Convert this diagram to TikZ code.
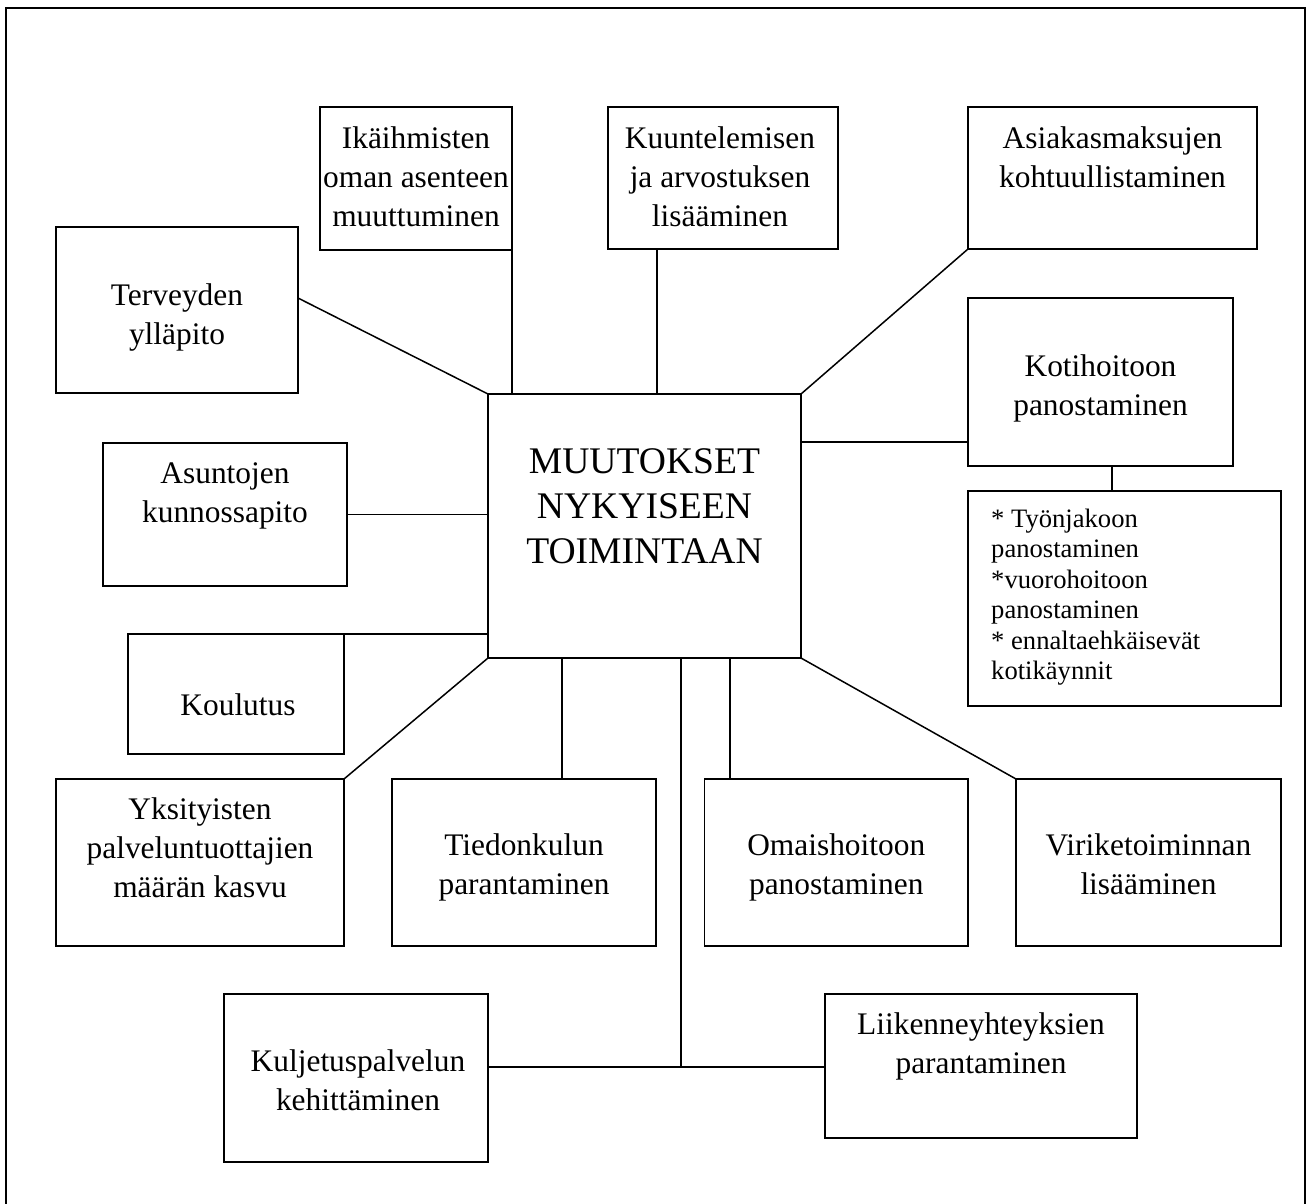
\documentclass[tikz,border=0pt]{standalone}
\usepackage{fontspec}
\setmainfont{Liberation Serif}
\begin{document}
\begin{tikzpicture}[x=1pt,y=-1pt]
\tikzset{
  box/.style={draw, line width=1.5pt, inner sep=0pt, outer sep=0pt},
  lab/.style={inner sep=0pt, align=center, anchor=north, font=\fontsize{31.4}{39}\selectfont},
  biglab/.style={inner sep=0pt, align=center, anchor=north, font=\fontsize{37.6}{45}\selectfont},
  notelab/.style={inner sep=0pt, align=left, anchor=north west, font=\fontsize{26.6}{30.5}\selectfont},
  conn/.style={line width=1.5pt},
}
\useasboundingbox (0,0) rectangle (1311,1203);
% outer frame
\draw[line width=1.5pt] (6,1215) -- (6,8) -- (1305,8) -- (1305,1215);

% boxes
\node[box, minimum width=313pt, minimum height=264pt] (center) at (644.5,526) {};
\node[box, minimum width=192pt, minimum height=143pt] (ika) at (416,178.5) {};
\node[box, minimum width=230pt, minimum height=142pt] (kuu) at (723,178) {};
\node[box, minimum width=289pt, minimum height=142pt] (asi) at (1112.5,178) {};
\node[box, minimum width=242pt, minimum height=166pt] (terv) at (177,310) {};
\node[box, minimum width=265pt, minimum height=168pt] (koti) at (1100.5,382) {};
\node[box, minimum width=313pt, minimum height=215pt] (notes) at (1124.5,598.5) {};
\node[box, minimum width=244pt, minimum height=143pt] (asu) at (225,514.5) {};
\node[box, minimum width=216pt, minimum height=120pt] (kou) at (236,694) {};
\node[box, minimum width=288pt, minimum height=167pt] (yks) at (200,862.5) {};
\node[box, minimum width=264pt, minimum height=167pt] (tie) at (524,862.5) {};
\node[box, minimum width=263.5pt, minimum height=167pt] (oma) at (836.25,862.5) {};
\node[box, minimum width=265pt, minimum height=167pt] (vir) at (1148.5,862.5) {};
\node[box, minimum width=264pt, minimum height=168pt] (kul) at (356,1078) {};
\node[box, minimum width=312pt, minimum height=144pt] (lii) at (981,1066) {};

% texts
\node[biglab] (center-t) at (644.5,441.5) {\strut MUUTOKSET\\NYKYISEEN\\TOIMINTAAN};
\node[lab] (ika-t) at (416,120.7) {\strut Ikäihmisten\\oman asenteen\\muuttuminen};
\node[lab] (kuu-t) at (720,120.7) {\strut Kuuntelemisen\\ja arvostuksen\\lisääminen};
\node[lab] (asi-t) at (1112.5,120.7) {\strut Asiakasmaksujen\\kohtuullistaminen};
\node[lab] (terv-t) at (177,277.7) {\strut Terveyden\\ylläpito};
\node[lab] (koti-t) at (1100.5,348.7) {\strut Kotihoitoon\\panostaminen};
\node[notelab] (notes-t) at (991,505.6) {\strut * Työnjakoon\\panostaminen\\*vuorohoitoon\\panostaminen\\* ennaltaehkäisevät\\kotikäynnit};
\node[lab] (asu-t) at (225,455.7) {\strut Asuntojen\\kunnossapito};
\node[lab] (kou-t) at (238,687.7) {\strut Koulutus};
\node[lab] (yks-t) at (200,791.7) {\strut Yksityisten\\palveluntuottajien\\määrän kasvu};
\node[lab] (tie-t) at (524,827.7) {\strut Tiedonkulun\\parantaminen};
\node[lab] (oma-t) at (836.25,827.7) {\strut Omaishoitoon\\panostaminen};
\node[lab] (vir-t) at (1148.5,827.7) {\strut Viriketoiminnan\\lisääminen};
\node[lab] (kul-t) at (358,1043.7) {\strut Kuljetuspalvelun\\kehittäminen};
\node[lab] (lii-t) at (981,1006.7) {\strut Liikenneyhteyksien\\parantaminen};

% connectors
\draw[conn] ([yshift=-71pt]terv.north east) -- (center.north west);
\draw[conn] (ika.south east) -- (ika.south east |- center.north);
\draw[conn] ([xshift=49pt]kuu.south west) -- ([xshift=49pt]kuu.south west |- center.north);
\draw[conn] (asi.south west) -- (center.north east);
\draw[conn] ([yshift=-60pt]koti.west) -- ([yshift=-60pt]koti.west -| center.east);
\draw[conn] ([xshift=11.5pt]koti.south) -- ([xshift=11.5pt]koti.south |- notes.north);
\draw[conn] (asu.east) -- (asu.east -| center.west);
\draw[conn] (kou.north east) -- (kou.north east -| center.west);
\draw[conn] (yks.north east) -- (center.south west);
\draw[conn] ([xshift=38pt]tie.north) -- ([xshift=38pt]tie.north |- center.south);
\draw[conn] ([xshift=25.5pt]oma.north west) -- ([xshift=25.5pt]oma.north west |- center.south);
\draw[conn] (vir.north west) -- (center.south east);
\coordinate (j) at (681,1067);
\draw[conn] ([xshift=36.5pt]center.south) -- (j);
\draw[conn] (kul.east |- j) -- (lii.west |- j);
\end{tikzpicture}
\end{document}
